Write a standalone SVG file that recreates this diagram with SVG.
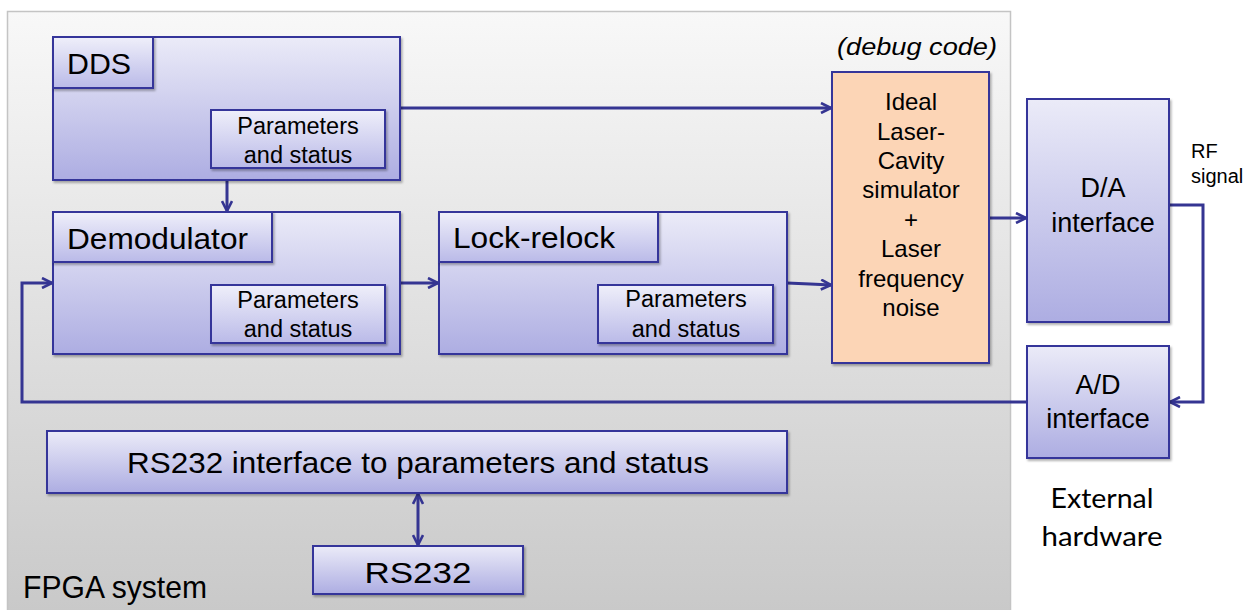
<svg xmlns="http://www.w3.org/2000/svg" width="1253" height="610" viewBox="0 0 1253 610">
<defs>
<linearGradient id="panel" x1="0" y1="0" x2="0" y2="1">
<stop offset="0" stop-color="#f8f8f8"/><stop offset="1" stop-color="#c9c9c9"/>
</linearGradient>
<linearGradient id="blk" x1="0" y1="0" x2="0" y2="1">
<stop offset="0" stop-color="#ebebf8"/><stop offset="1" stop-color="#adade2"/>
</linearGradient>
<linearGradient id="sub" x1="0" y1="0" x2="0" y2="1">
<stop offset="0" stop-color="#efeffa"/><stop offset="1" stop-color="#babae8"/>
</linearGradient>
<filter id="sh" x="-5%" y="-5%" width="115%" height="115%">
<feDropShadow dx="1.5" dy="2" stdDeviation="1.2" flood-color="#000" flood-opacity="0.3"/>
</filter>
<marker id="arr" viewBox="0 0 12 12" refX="11" refY="6" markerWidth="12" markerHeight="12" markerUnits="userSpaceOnUse" orient="auto-start-reverse">
<path d="M1,1 L11,6 L1,11" fill="none" stroke="#353592" stroke-width="2.6"/>
</marker>
</defs>
<style>
.box{fill:url(#blk);stroke:#35359a;stroke-width:2;filter:url(#sh)}
.sub{fill:url(#sub);stroke:#35359a;stroke-width:2;filter:url(#sh)}
.sim{fill:#fcd5b6;stroke:#35359a;stroke-width:2;filter:url(#sh)}
.t{font-family:"Liberation Sans",Arial,sans-serif;fill:#000}
.c{text-anchor:middle}
.p{font-size:23.5px}
.conn{fill:none;stroke:#353592;stroke-width:3}
</style>
<rect x="0" y="0" width="1253" height="610" fill="#ffffff"/>
<rect x="7.5" y="11.5" width="1003" height="600" fill="url(#panel)" stroke="#c4c4c4" stroke-width="1.5"/>

<g id="connectors">
<line class="conn" x1="400" y1="108" x2="831" y2="108" marker-end="url(#arr)"/>
<line class="conn" x1="227" y1="180" x2="227" y2="211" marker-end="url(#arr)"/>
<line class="conn" x1="400" y1="283" x2="438" y2="283" marker-end="url(#arr)"/>
<polyline class="conn" points="787,283 810,284 831,285" marker-end="url(#arr)"/>
<polyline class="conn" points="989,218 1010,218 1026,218" marker-end="url(#arr)"/>
<polyline class="conn" points="1169,205 1203,205 1203,402 1170,402" marker-end="url(#arr)"/>
<polyline class="conn" points="1027,402 22,402 22,283 52,283" marker-end="url(#arr)"/>
<line class="conn" x1="418" y1="494" x2="418" y2="545" marker-start="url(#arr)" marker-end="url(#arr)"/>
</g>

<g id="dds">
<rect class="box" x="53" y="37" width="347" height="143"/>
<rect class="sub" x="53" y="37" width="100" height="51"/>
<text class="t" x="67" y="74" font-size="30" textLength="64" lengthAdjust="spacingAndGlyphs">DDS</text>
<rect class="sub" x="211" y="110" width="174" height="58"/>
<text class="t c p" x="298" y="134">Parameters</text>
<text class="t c p" x="298" y="163">and status</text>
</g>

<g id="demodulator">
<rect class="box" x="53" y="212" width="347" height="142"/>
<rect class="sub" x="53" y="212" width="219" height="50"/>
<text class="t" x="67" y="249" font-size="30" textLength="181" lengthAdjust="spacingAndGlyphs">Demodulator</text>
<rect class="sub" x="211" y="285" width="174" height="58"/>
<text class="t c p" x="298" y="308">Parameters</text>
<text class="t c p" x="298" y="337">and status</text>
</g>

<g id="lock-relock">
<rect class="box" x="439" y="212" width="348" height="142"/>
<rect class="sub" x="439" y="212" width="219" height="50"/>
<text class="t" x="453" y="248" font-size="30" textLength="162" lengthAdjust="spacingAndGlyphs">Lock-relock</text>
<rect class="sub" x="598" y="285" width="175" height="58"/>
<text class="t c p" x="686" y="307">Parameters</text>
<text class="t c p" x="686" y="337">and status</text>
</g>

<g id="simulator">
<text class="t c" x="917" y="55" font-size="23" font-style="italic" textLength="160" lengthAdjust="spacingAndGlyphs">(debug code)</text>
<rect class="sim" x="832" y="72" width="157" height="291"/>
<g class="t c" font-size="24">
<text x="911" y="110">Ideal</text>
<text x="911" y="139.5">Laser-</text>
<text x="911" y="169">Cavity</text>
<text x="911" y="198">simulator</text>
<text x="911" y="227.5">+</text>
<text x="911" y="257">Laser</text>
<text x="911" y="286.5">frequency</text>
<text x="911" y="316">noise</text>
</g>
</g>

<g id="da">
<rect class="box" x="1027" y="99" width="142" height="223"/>
<text class="t c" x="1103" y="197" font-size="27">D/A</text>
<text class="t c" x="1103" y="232" font-size="27">interface</text>
</g>

<g id="ad">
<rect class="box" x="1027" y="346" width="142" height="112"/>
<text class="t c" x="1098" y="394" font-size="27">A/D</text>
<text class="t c" x="1098" y="428" font-size="27">interface</text>
</g>

<g id="rf-label">
<text class="t" x="1191" y="158" font-size="20">RF</text>
<text class="t" x="1191" y="183" font-size="20">signal</text>
</g>

<g id="rs232-interface">
<rect class="box" x="47" y="431" width="740" height="62"/>
<text class="t c" x="418" y="473" font-size="30" textLength="582" lengthAdjust="spacingAndGlyphs">RS232 interface to parameters and status</text>
</g>

<g id="rs232">
<rect class="box" x="313" y="546" width="210" height="48"/>
<text class="t c" x="418" y="583" font-size="30" textLength="107" lengthAdjust="spacingAndGlyphs">RS232</text>
</g>

<g id="labels">
<text class="t" x="23" y="598" font-size="32" textLength="184" lengthAdjust="spacingAndGlyphs">FPGA system</text>
<text x="1102" y="508" font-size="27" text-anchor="middle" font-family="Lato,'Open Sans',sans-serif" textLength="103" lengthAdjust="spacingAndGlyphs">External</text>
<text x="1102" y="546" font-size="27" text-anchor="middle" font-family="Lato,'Open Sans',sans-serif" textLength="121" lengthAdjust="spacingAndGlyphs">hardware</text>
</g>
</svg>
